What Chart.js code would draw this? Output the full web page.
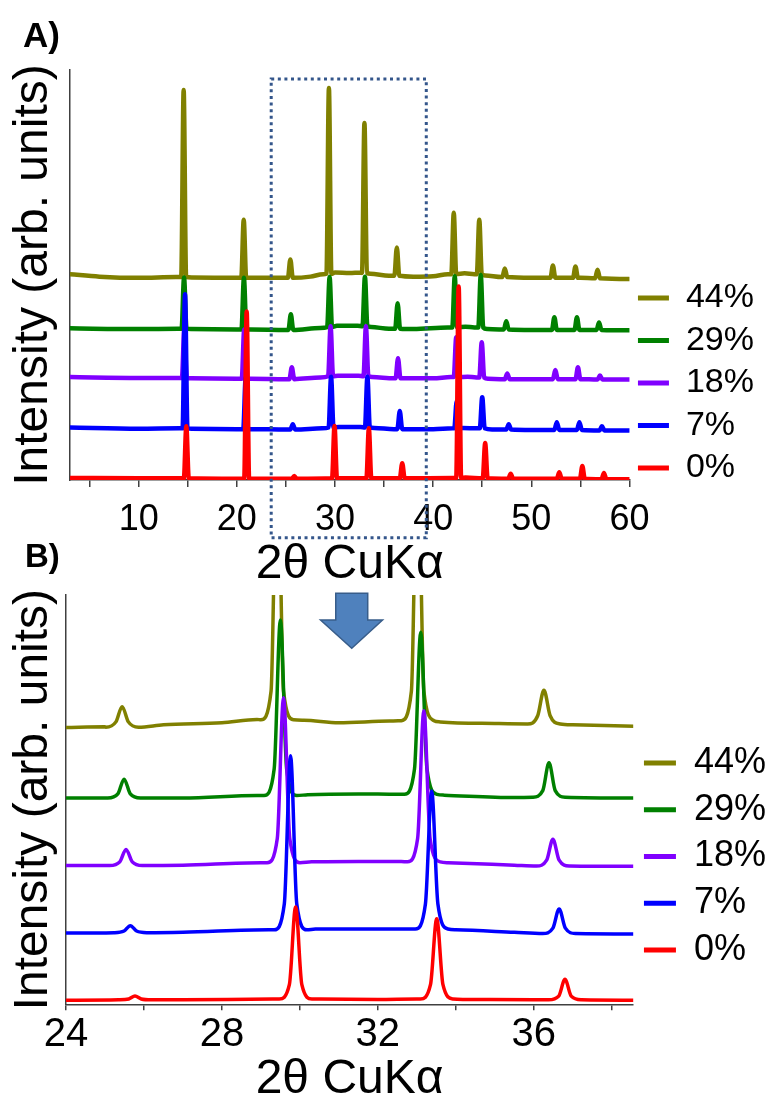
<!DOCTYPE html>
<html><head><meta charset="utf-8">
<script src="https://cdn.jsdelivr.net/npm/chart.js@4.4.1/dist/chart.umd.min.js"></script>
<style>
html,body{margin:0;padding:0;background:#fff;width:769px;height:1095px;overflow:hidden;}
#wrap{position:relative;width:769px;height:1095px;overflow:hidden;background:#fff;}
canvas{position:absolute;left:0;}
#cA{top:0;}
#cB{top:560px;}
.panel{position:absolute;font-family:'Liberation Sans',Arial,sans-serif;font-weight:bold;color:#000;line-height:1;white-space:nowrap;}
</style></head>
<body><div id="wrap">
<canvas id="cA" width="800" height="582"></canvas>
<canvas id="cB" width="800" height="545"></canvas>
<div class="panel" style="left:23px;top:17px;font-size:35px;">A)</div>
<div class="panel" style="left:25px;top:539px;font-size:33px;">B)</div>
</div>
<script>
// ---------- labels / ticks ----------
const seriesLabels = ['0%', '7%', '18%', '29%', '44%'];
const seriesColors = ['#ff0000', '#0000ff', '#8000ff', '#008000', '#808000'];
const ticksA = [10, 20, 30, 40, 50, 60];
const ticksB = [24, 28, 32, 36];
const xTitle = '2θ CuKα';
const yTitle = 'Intensity (arb. units)';

// ---------- Panel A: baselines [x, y] ----------
const baseA_0 = [[3,0.5],[10,0.4],[20,0.3],[30,0.4],[42,0.5],[43.3,0.6],[50,0.3],[60,0.2]];
const baseA_7 = [[3,12.8],[10,12.5],[14.2,12.6],[15.4,12.5],[20,12.4],[21.5,12.4],[25,12.3],[28.7,12.6],[30.4,12.9],[32.6,12.9],[34,12.7],[36,12.4],[40,12.4],[42,12.6],[43,12.7],[44.5,12.6],[46,12.3],[50,12.2],[55,12.2],[60,12.1]];
const baseA_18 = [[3,25.1],[10,24.9],[14,24.9],[15.3,24.8],[20,24.7],[21.4,24.7],[25,24.6],[28.5,25.0],[30.3,25.4],[32.4,25.4],[33.8,25.1],[36,24.8],[40,24.8],[41.8,25.1],[43.5,25.2],[44.4,25.0],[45.6,24.7],[50,24.6],[55,24.6],[60,24.5]];
const baseA_29 = [[3,37.0],[10,36.8],[14,36.9],[15.3,36.8],[20,36.7],[21.4,36.7],[25,36.6],[28.5,37.1],[30.2,37.6],[32.3,37.6],[33.7,37.3],[35.5,36.9],[38,36.8],[41.5,37.2],[43.3,37.4],[44.2,37.2],[45.5,36.8],[50,36.6],[55,36.6],[60,36.5]];
const baseA_44 = [[3,50.2],[6,49.6],[10,49.3],[13.8,49.5],[15.4,49.4],[20,49.3],[21.3,49.3],[24.5,49.3],[27.5,49.6],[28.8,50.2],[30,50.6],[31.5,50.5],[32.6,50.6],[33.6,50.3],[35.5,49.8],[38,49.6],[40,49.7],[41.5,50.2],[43.2,50.4],[44.2,50.2],[45.3,49.9],[47,49.5],[50,49.3],[55,49.3],[60,49.0]];

// ---------- Panel A: peaks [center, apex, foot] ----------
const peaksA_0 = [[14.85,13.1,0.4],[21.0,41.1,0.3],[25.85,1.0,0.3],[29.95,13.2,0.4],[33.45,12.6,0.4],[36.85,4.1,0.4],[42.6,47.2,0.5],[45.3,9.0,0.4],[47.9,1.5,0.3],[52.85,1.9,0.3],[55.2,3.4,0.3],[57.4,1.7,0.2]];
const peaksA_7 = [[14.72,45.3,12.6],[20.9,25.0,12.4],[25.7,13.6,12.3],[29.6,25.2,12.8],[33.3,25.2,12.8],[36.6,16.8,12.4],[42.4,19.2,12.6],[45.0,20.2,12.6],[47.7,13.6,12.3],[52.6,14.1,12.2],[54.9,14.1,12.2],[57.2,13.1,12.1]];
const peaksA_18 = [[14.65,36.8,24.9],[20.75,36.7,24.7],[25.6,27.5,24.6],[29.55,37.5,25.3],[33.15,37.5,25.3],[36.42,29.7,24.8],[42.35,34.8,25.1],[44.95,33.6,25.0],[47.55,26.0,24.6],[52.45,26.8,24.6],[54.75,27.5,24.6],[57.0,25.5,24.5]];
const peaksA_29 = [[14.62,49.4,36.9],[20.72,49.3,36.7],[25.5,40.4,36.6],[29.45,49.5,37.3],[33.05,49.6,37.5],[36.38,43.1,36.9],[42.2,49.7,37.2],[44.85,50.0,37.2],[47.45,38.7,36.7],[52.35,39.7,36.6],[54.65,39.7,36.6],[56.9,38.4,36.6]];
const peaksA_44 = [[14.58,95.1,49.5],[20.7,63.5,49.3],[25.45,53.8,49.3],[29.38,95.6,50.3],[33.0,87.1,50.5],[36.3,56.7,49.8],[42.1,65.2,50.2],[44.7,63.5,50.2],[47.3,51.6,49.5],[52.2,52.3,49.3],[54.5,52.1,49.3],[56.75,51.3,49.2]];

// ---------- Panel B: baselines [x, y] ----------
const baseB_0 = [[24,1.0],[27,1.1],[29.3,1.3],[30.5,1.3],[32,1.2],[33,1.3],[34.2,1.2],[36,1.1],[38.6,1.0]];
const baseB_7 = [[24,17.4],[27,17.6],[29.2,18.2],[30.4,18.4],[31.5,18.4],[32.8,18.4],[34,18.2],[35.5,17.6],[38.6,17.2]];
const baseB_18 = [[24,33.9],[27,34.0],[29,34.6],[30.3,34.8],[31.5,34.9],[32.6,34.9],[33.8,34.6],[35.5,34.0],[38.6,33.7]];
const baseB_29 = [[24,50.4],[27,50.4],[28.9,51.0],[30.2,51.2],[31.5,51.4],[32.5,51.3],[33.7,51.1],[35.5,50.5],[38.6,50.4]];
const baseB_44 = [[24,67.6],[25,67.8],[26.5,68.3],[28,68.8],[28.9,69.6],[30.1,69.4],[31,68.8],[32.3,69.2],[33.6,69.0],[35,68.6],[37,68.3],[38.6,67.9]];

// ---------- Panel B: peaks [center, apex, foot, knee] ----------
const peaksB_0 = [[25.77,2.0,1.1,1.3],[29.89,23.8,1.3,4.8],[33.51,20.9,1.3,4.8],[36.8,6.1,1.1,2.0]];
const peaksB_7 = [[25.65,19.2,17.5,17.9],[29.76,60.7,18.2,24.5],[33.38,52.1,18.4,24.5],[36.65,23.3,17.3,18.6]];
const peaksB_18 = [[25.54,37.8,33.9,34.8],[29.58,74.9,34.6,40.5],[33.18,71.7,34.8,40.5],[36.49,40.3,33.8,35.2]];
const peaksB_29 = [[25.49,55.0,50.4,51.4],[29.5,93.9,51.0,57.5],[33.1,90.9,51.3,57.5],[36.39,59.0,50.6,52.2]];
const peaksB_44 = [[25.44,72.7,67.7,69.0],[29.42,140,69.5,76.5],[33.02,140,69.3,76.5],[36.26,76.7,68.5,70.5]];

// ---------- annotations (data units) ----------
const zoomBoxX = [23.5, 39.3];
const zoomBoxY = [-14.1, 97.8];
const arrowX = [30.92, 31.74, 31.74, 32.12, 31.33, 30.53, 30.92];
const arrowY = [100.4, 100.4, 93.9, 93.9, 87.0, 93.9, 93.9];

// ---------- build line points from baseline + peak table ----------
const shapeA = [[-0.25,'foot'],[0,'apex'],[0.25,'foot']];
const shapeB = [[-0.42,'foot'],[-0.16,'knee'],[0,'apex'],[0.16,'knee'],[0.42,'foot']];
function buildSeries(baseline, peaks, shape) {
  const lo = shape[0][0], hi = shape[shape.length - 1][0];
  const pts = [];
  baseline.forEach(b => {
    if (!peaks.some(p => b[0] > p[0] + lo && b[0] < p[0] + hi)) pts.push([b[0], b[1]]);
  });
  peaks.forEach(p => shape.forEach(([dx, k]) => {
    const y = k === 'apex' ? p[1] : (k === 'foot' ? p[2] : p[3]);
    pts.push([p[0] + dx, y]);
  }));
  pts.sort((a, b) => a[0] - b[0]);
  return pts;
}

const seriesA = [
  buildSeries(baseA_0, peaksA_0, shapeA), buildSeries(baseA_7, peaksA_7, shapeA),
  buildSeries(baseA_18, peaksA_18, shapeA), buildSeries(baseA_29, peaksA_29, shapeA),
  buildSeries(baseA_44, peaksA_44, shapeA)];
const seriesB = [
  buildSeries(baseB_0, peaksB_0, shapeB), buildSeries(baseB_7, peaksB_7, shapeB),
  buildSeries(baseB_18, peaksB_18, shapeB), buildSeries(baseB_29, peaksB_29, shapeB),
  buildSeries(baseB_44, peaksB_44, shapeB)];

Chart.defaults.font.family = "'Liberation Sans', Arial, sans-serif";
Chart.defaults.color = '#000';

function datasets(series, lw) {
  return series.map((d, i) => ({
    label: seriesLabels[i], data: d, borderColor: seriesColors[i], backgroundColor: seriesColors[i],
    borderWidth: lw, pointRadius: 0, pointHoverRadius: 0, fill: false,
    cubicInterpolationMode: 'monotone',
    borderJoinStyle: 'round', borderCapStyle: 'round'
  }));
}
function legendCfg(fontSize, boxW, pad, titleTop) {
  return {
    display: true, position: 'right', align: 'start', reverse: true,
    title: {display: true, text: '', font: {size: 10, lineHeight: 1}, padding: {top: titleTop, bottom: 0}},
    labels: {
      boxWidth: boxW, boxHeight: 5, padding: pad, color: '#000', font: {size: fontSize},
      generateLabels: (chart) => chart.data.datasets.map((ds, i) => ({
        text: ds.label, fillStyle: ds.borderColor, strokeStyle: ds.borderColor,
        lineWidth: 0, hidden: false, datasetIndex: i, fontColor: '#000'
      }))
    }
  };
}
function xScale(min, max, step, labels, fontSize, tl, tpad, titleLH, titlePadTop) {
  return {
    type: 'linear', min: min, max: max,
    border: {display: true, color: '#404040', width: 1.5},
    grid: {display: true, drawOnChartArea: false, drawTicks: true, tickLength: tl, color: '#404040', lineWidth: 1.5},
    ticks: {stepSize: step, includeBounds: false, autoSkip: false, maxRotation: 0, minRotation: 0,
      padding: tpad, color: '#000', font: {size: fontSize, lineHeight: 1},
      callback: (v) => labels.some(t => Math.abs(t - v) < 1e-6) ? String(v) : ''},
    title: {display: true, text: xTitle, color: '#000', font: {size: 48, lineHeight: titleLH}, padding: {top: titlePadTop, bottom: 0}}
  };
}
function yScale(padBottom) {
  return {
    type: 'linear', min: 0, max: 100,
    grid: {display: false, drawTicks: false},
    ticks: {display: false},
    border: {display: true, color: '#404040', width: 1.5},
    title: {display: true, text: yTitle, color: '#000', font: {size: 48, lineHeight: 1}, padding: {top: 4.4, bottom: padBottom}}
  };
}

const zoomBoxPlugin = {
  id: 'zoomBox',
  afterDatasetsDraw(chart) {
    const {ctx, scales: {x, y}} = chart;
    const x0 = x.getPixelForValue(zoomBoxX[0]), x1 = x.getPixelForValue(zoomBoxX[1]);
    const y0 = y.getPixelForValue(zoomBoxY[1]), y1 = y.getPixelForValue(zoomBoxY[0]);
    ctx.save();
    ctx.strokeStyle = '#34568b'; ctx.lineWidth = 3; ctx.setLineDash([3, 3.6]); ctx.lineCap = 'butt';
    ctx.beginPath(); ctx.rect(x0, y0, x1 - x0, y1 - y0); ctx.stroke();
    ctx.restore();
  }
};
const arrowPlugin = {
  id: 'arrow',
  afterDatasetsDraw(chart) {
    const {ctx, scales: {x, y}} = chart;
    ctx.save();
    ctx.beginPath();
    arrowX.forEach((v, i) => {
      const px = x.getPixelForValue(v), py = y.getPixelForValue(arrowY[i]);
      if (i === 0) ctx.moveTo(px, py); else ctx.lineTo(px, py);
    });
    ctx.closePath();
    ctx.fillStyle = '#4f81bd'; ctx.fill();
    ctx.strokeStyle = '#385d8a'; ctx.lineWidth = 1.5; ctx.lineJoin = 'miter'; ctx.stroke();
    ctx.restore();
  }
};

new Chart(document.getElementById('cA'), {
  type: 'line',
  data: {datasets: datasets(seriesA, 4.5)},
  options: {
    responsive: false, animation: false, devicePixelRatio: 1,
    layout: {padding: {top: 70, left: 5, right: 36, bottom: 5}},
    plugins: {legend: legendCfg(34, 31, 8.5, 192.5), tooltip: {enabled: false}},
    scales: {x: xScale(3, 60, 5, ticksA, 36, 7, 15, '24px', 0), y: yScale(12.6)}
  },
  plugins: [zoomBoxPlugin]
});

new Chart(document.getElementById('cB'), {
  type: 'line',
  data: {datasets: datasets(seriesB, 3.5)},
  options: {
    responsive: false, animation: false, devicePixelRatio: 1,
    layout: {padding: {top: 35, left: 5, right: 24, bottom: 4.3}},
    plugins: {legend: legendCfg(36, 32, 10.75, 129.25), tooltip: {enabled: false}},
    scales: {x: xScale(24, 38.55, 2, ticksB, 40, 6, 4.7, '41px', 0), y: yScale(8.6)}
  },
  plugins: [arrowPlugin]
});
</script>
</body></html>
